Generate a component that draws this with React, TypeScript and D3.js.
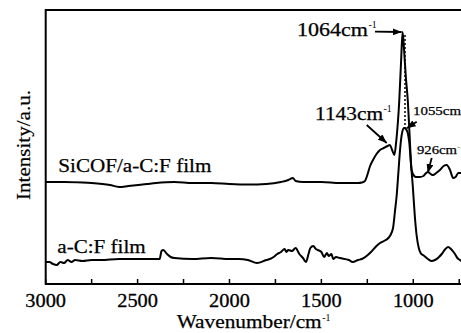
import { useEffect, useRef } from "react";
import * as d3 from "d3";

// a-C:F film (lower trace)
const waveACF = [
  3000, 2980, 2960, 2940, 2920, 2900, 2880, 2860, 2840, 2800, 2750, 2700, 2600, 2500, 2420, 2380,
  2370, 2360, 2340, 2320, 2300, 2200, 2100, 2000, 1950, 1900, 1850, 1800, 1780, 1760, 1740, 1720,
  1700, 1690, 1680, 1660, 1640, 1620, 1600, 1584, 1570, 1560, 1544, 1530, 1520, 1500, 1485, 1470,
  1460, 1445, 1436, 1420, 1400, 1350, 1330, 1300, 1280, 1254, 1230, 1200, 1181, 1150, 1127, 1110,
  1100, 1090, 1080, 1072, 1060, 1050, 1040, 1030, 1022, 1012, 1003, 992, 982, 970, 960, 940, 920,
  900, 882, 860, 845, 825, 810, 795, 773, 760, 746, 730, 700,
];
const intensityACF = [
  22, 22, 20, 19, 22, 21, 24, 22, 24, 23, 24, 24, 25, 25, 25, 25,
  33, 34, 30, 27, 26, 25, 26, 25, 25, 24, 21, 24, 25, 27, 30, 32,
  35, 32, 34, 33, 36, 30, 26, 22, 30, 36, 38, 35, 34, 32, 27, 31,
  28, 30, 25, 27, 26, 24, 22, 24, 25, 28, 32, 38, 41, 44, 48, 56,
  72, 89, 114, 134, 152, 156, 155, 151, 142, 119, 99, 69, 49, 36, 31, 28, 25,
  23, 24, 27, 30, 35, 37, 35, 30, 26, 24, 22, 20,
];

// SiCOF/a-C:F film (upper trace)
const waveSiCOF = [
  3000, 2900, 2800, 2750, 2650, 2600, 2550, 2450, 2400, 2300, 2200, 2100, 2000, 1900, 1800, 1720,
  1680, 1655, 1640, 1600, 1500, 1400, 1300, 1280, 1263, 1250, 1235, 1219, 1200, 1181, 1160, 1140,
  1127, 1115, 1103, 1092, 1076, 1066, 1058, 1050, 1040, 1030, 1020, 1009, 995, 985, 964, 945, 930,
  920, 905, 893, 875, 855, 835, 818, 800, 783, 770, 755, 740, 700,
];
const intensitySiCOF = [
  102, 102, 101.5, 101, 99, 97, 98, 100, 101, 102, 101, 101, 100, 99.5, 100, 102,
  104, 106, 103, 102, 102, 101, 101, 101.5, 103, 109, 118, 124, 130, 134, 136, 138,
  139, 134, 129, 144, 184, 224, 252, 234, 206, 184, 149, 114, 108, 107, 107, 108, 111,
  112, 110, 109, 111, 114, 118, 119, 114, 106, 107, 111, 111, 111,
];

const xTicks = [3000, 2500, 2000, 1500, 1000];
const xMinorTicks = [2750, 2250, 1750, 1250, 750];

const serif = "'Liberation Serif', 'Times New Roman', serif";

export default function App() {
  const svgRef = useRef(null);

  useEffect(() => {
    const svg = d3.select(svgRef.current);
    svg.selectAll("*").remove();

    const width = 461;
    const height = 333;
    const left = 45.7;
    const top = 10;
    const bottom = 284;

    const x = d3.scaleLinear().domain([3000, 700]).range([left, 468.4]);
    const y = d3.scaleLinear().domain([0, 274]).range([bottom, top]);

    svg.attr("width", width).attr("height", height);

    svg
      .append("defs")
      .append("marker")
      .attr("id", "arrow")
      .attr("markerUnits", "userSpaceOnUse")
      .attr("markerWidth", 9)
      .attr("markerHeight", 7)
      .attr("refX", 9)
      .attr("refY", 3.5)
      .attr("orient", "auto")
      .append("path")
      .attr("d", "M0,0 L9,3.5 L0,7 z")
      .attr("fill", "#000");

    const line = d3
      .line()
      .x((d) => x(d[0]))
      .y((d) => y(d[1]))
      .curve(d3.curveMonotoneX);

    const traces = [
      waveACF.map((w, i) => [w, intensityACF[i]]),
      waveSiCOF.map((w, i) => [w, intensitySiCOF[i]]),
    ];

    svg
      .selectAll("path.trace")
      .data(traces)
      .enter()
      .append("path")
      .attr("class", "trace")
      .attr("d", (d) => line(d))
      .attr("fill", "none")
      .attr("stroke", "#000")
      .attr("stroke-width", 2)
      .attr("stroke-linejoin", "round");

    // frame: left + top + bottom (right side runs off the picture)
    svg
      .append("path")
      .attr("d", `M${width + 5},${top} H${left} V${bottom} H${width + 5}`)
      .attr("fill", "none")
      .attr("stroke", "#000")
      .attr("stroke-width", 2);

    // inward ticks
    svg
      .selectAll("line.tick")
      .data(xTicks.concat(xMinorTicks))
      .enter()
      .append("line")
      .attr("class", "tick")
      .attr("x1", (d) => x(d))
      .attr("x2", (d) => x(d))
      .attr("y1", bottom)
      .attr("y2", bottom - 5)
      .attr("stroke", "#000")
      .attr("stroke-width", 1.5);

    svg
      .selectAll("text.tl")
      .data(xTicks)
      .enter()
      .append("text")
      .attr("class", "tl")
      .attr("x", (d) => x(d))
      .attr("y", 306.7)
      .attr("text-anchor", "middle")
      .attr("font-family", serif)
      .attr("font-size", 19)
      .attr("stroke", "#000")
      .attr("stroke-width", 0.3)
      .attr("textLength", 40.7)
      .attr("lengthAdjust", "spacingAndGlyphs")
      .text((d) => d);

    const label = (txt, sup, lx, ly, size, w) => {
      svg
        .append("text")
        .attr("x", lx)
        .attr("y", ly)
        .attr("font-family", serif)
        .attr("font-size", size)
        .attr("stroke", "#000")
        .attr("stroke-width", 0.25)
        .attr("textLength", w)
        .attr("lengthAdjust", "spacingAndGlyphs")
        .text(txt);
      if (sup) {
        svg
          .append("text")
          .attr("x", lx + w + 0.5)
          .attr("y", ly - size * 0.42)
          .attr("font-family", serif)
          .attr("font-size", size * 0.55)
          .text(sup);
      }
    };

    label("Wavenumber/cm", "-1", 176.7, 328.3, 18, 145);
    label("SiCOF/a-C:F film", null, 58.3, 171.7, 19, 153);
    label("a-C:F film", null, 57.3, 253.3, 19, 88.4);
    label("1064cm", "-1", 297, 36, 18, 71);
    label("1143cm", "-1", 315, 120, 18, 68);
    label("1055cm", "-1", 413, 115, 13, 48);
    label("926cm", "-1", 417, 154, 13, 40);

    svg
      .append("text")
      .attr("transform", "translate(30, 145) rotate(-90)")
      .attr("text-anchor", "middle")
      .attr("font-family", serif)
      .attr("font-size", 18)
      .attr("stroke", "#000")
      .attr("stroke-width", 0.2)
      .attr("textLength", 110)
      .attr("lengthAdjust", "spacingAndGlyphs")
      .text("Intensity/a.u.");

    // dotted guide between the two main peaks
    svg
      .append("line")
      .attr("x1", x(1045))
      .attr("x2", x(1045))
      .attr("y1", y(249))
      .attr("y2", y(156))
      .attr("stroke", "#000")
      .attr("stroke-width", 1.5)
      .attr("stroke-dasharray", "2,2");

    const arrows = [
      [375, 31.7, x(1058) - 1, y(252)],
      [366.7, 125, 386.7, 143],
      [416.7, 121.7, 406.7, 128.3],
      [431.7, 158, 427.7, 173],
    ];

    svg
      .selectAll("line.arrow")
      .data(arrows)
      .enter()
      .append("line")
      .attr("class", "arrow")
      .attr("x1", (d) => d[0])
      .attr("y1", (d) => d[1])
      .attr("x2", (d) => d[2])
      .attr("y2", (d) => d[3])
      .attr("stroke", "#000")
      .attr("stroke-width", 1.8)
      .attr("marker-end", "url(#arrow)");
  }, []);

  return (
    <svg
      ref={svgRef}
      style={{ position: "absolute", left: 0, top: 0, background: "#fff" }}
    ></svg>
  );
}
